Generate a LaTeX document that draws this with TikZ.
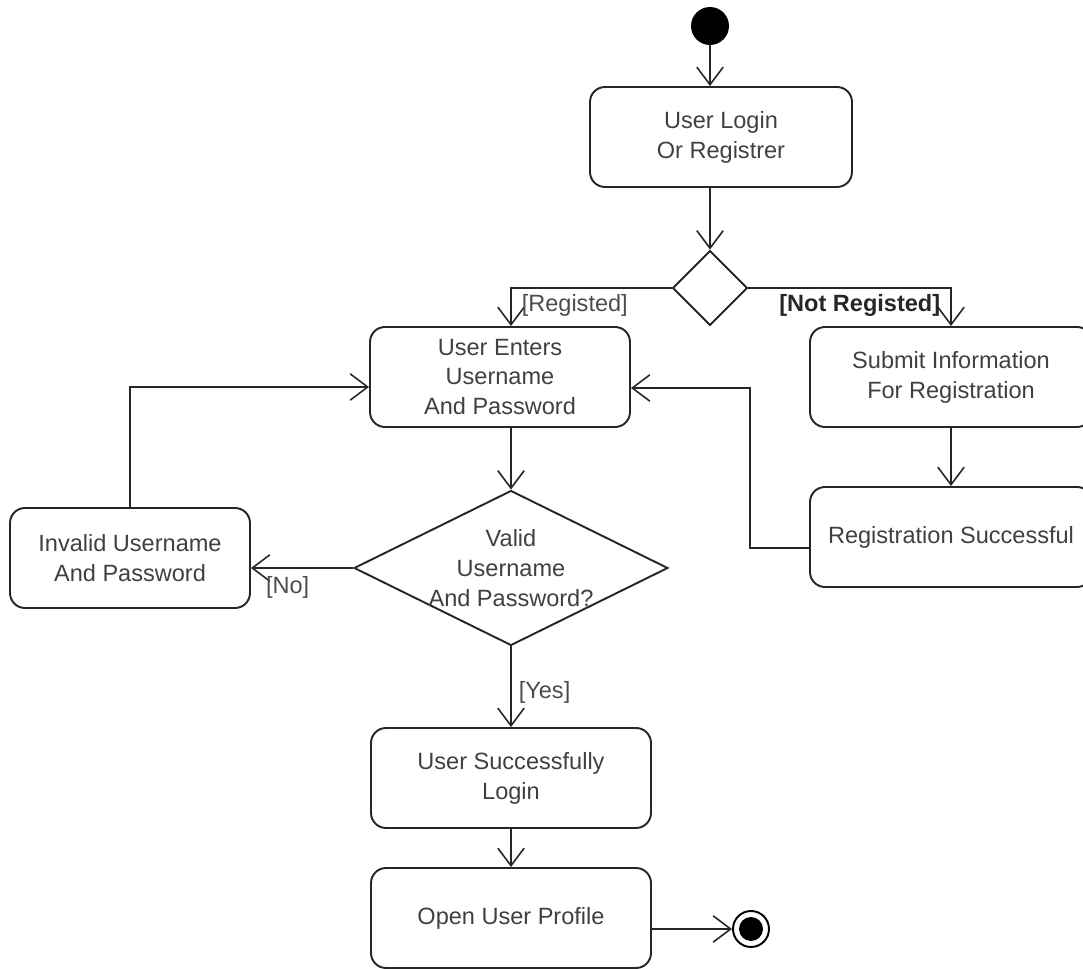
\documentclass[tikz,border=0pt]{standalone}
\usepackage{fontspec}
\setmainfont{Liberation Sans}
\usetikzlibrary{arrows.meta,shapes}
\tikzstyle{activity} = [rectangle, rounded corners=8.5pt, minimum height=2cm, align=center, draw=black!85, line width=1.1pt, text=black!75]
\tikzstyle{choice} = [diamond, draw=black!85, line width=1.1pt, inner sep=0pt]
\tikzstyle{flow} = [draw=black!85, line width=0.9pt, -{Straight Barb[length=10pt,width=15pt,line width=0.9pt]}]
\tikzstyle{guard} = [text=black!70, inner sep=0pt]

\begin{document}
\begin{tikzpicture}[x=0.02cm, y=-0.02cm, font=\fontsize{13.4}{17}\selectfont]
        \useasboundingbox (0,0) rectangle (1083,969);
        \node (start) [circle, fill=black, minimum size=0.76cm, inner sep=0pt] at (710,26) {};
        \node (login) [activity, minimum width=5.24cm] at (721,137) {User Login\\Or Registrer};
        \node (pick) [choice, minimum width=1.5cm, minimum height=1.5cm] at (710,288) {};
        \node (enter) [activity, minimum width=5.2cm] at (500,377) {User Enters\\Username\\And Password};
        \node (submit) [activity, minimum width=5.64cm] at (951,377) {Submit Information\\For Registration};
        \node (regok) [activity, minimum width=5.64cm] at (951,537) {Registration Successful};
        \node (valid) [choice, minimum width=6.28cm, minimum height=3.1cm,
                label={[align=center, text=black!75]center:Valid\\Username\\And Password?}] at (511,568) {};
        \node (invalid) [activity, minimum width=4.8cm] at (130,558) {Invalid Username\\And Password};
        \node (success) [activity, minimum width=5.6cm] at (511,778) {User Successfully\\Login};
        \node (profile) [activity, minimum width=5.6cm] at (511,918) {Open User Profile};
        \node (stop) [circle, draw=black, line width=1.1pt, minimum size=0.72cm, inner sep=0pt] at (751,929) {};
        \fill[black] (stop.center) circle (0.24cm);
        \draw [flow] (start) -- (start |- login.north);
        \draw [flow] (login.south -| pick) -- (pick);
        \draw [flow] (pick.west) -| node[guard, anchor=west, pos=.7, xshift=0.2cm, yshift=-0.05cm]{[Registed]} (enter.north -| valid);
        \draw [flow] (pick.east) -| node[guard, anchor=east, pos=.7, xshift=-0.2cm, yshift=-0.05cm, text=black!85]{\bfseries [Not Registed]} (submit.north);
        \draw [flow] (submit) -- (regok);
        \draw [flow] ([yshift=-0.22cm]regok.west) -- ++(-59,0) |- ([yshift=-0.22cm]enter.east);
        \draw [flow] (enter.south -| valid) -- (valid);
        \draw [flow] (valid.west) -- node[guard, anchor=north west, pos=.86, yshift=-0.16cm]{[No]} (valid.west -| invalid.east);
        \draw [flow] (invalid.north) |- ([yshift=-0.2cm]enter.west);
        \draw [flow] (valid.south) -- node[guard, anchor=west, pos=.57, xshift=0.14cm]{[Yes]} (success);
        \draw [flow] (success) -- (profile);
        \draw [flow] ([yshift=-0.22cm]profile.east) -- (stop.west);
\end{tikzpicture}
\end{document}
